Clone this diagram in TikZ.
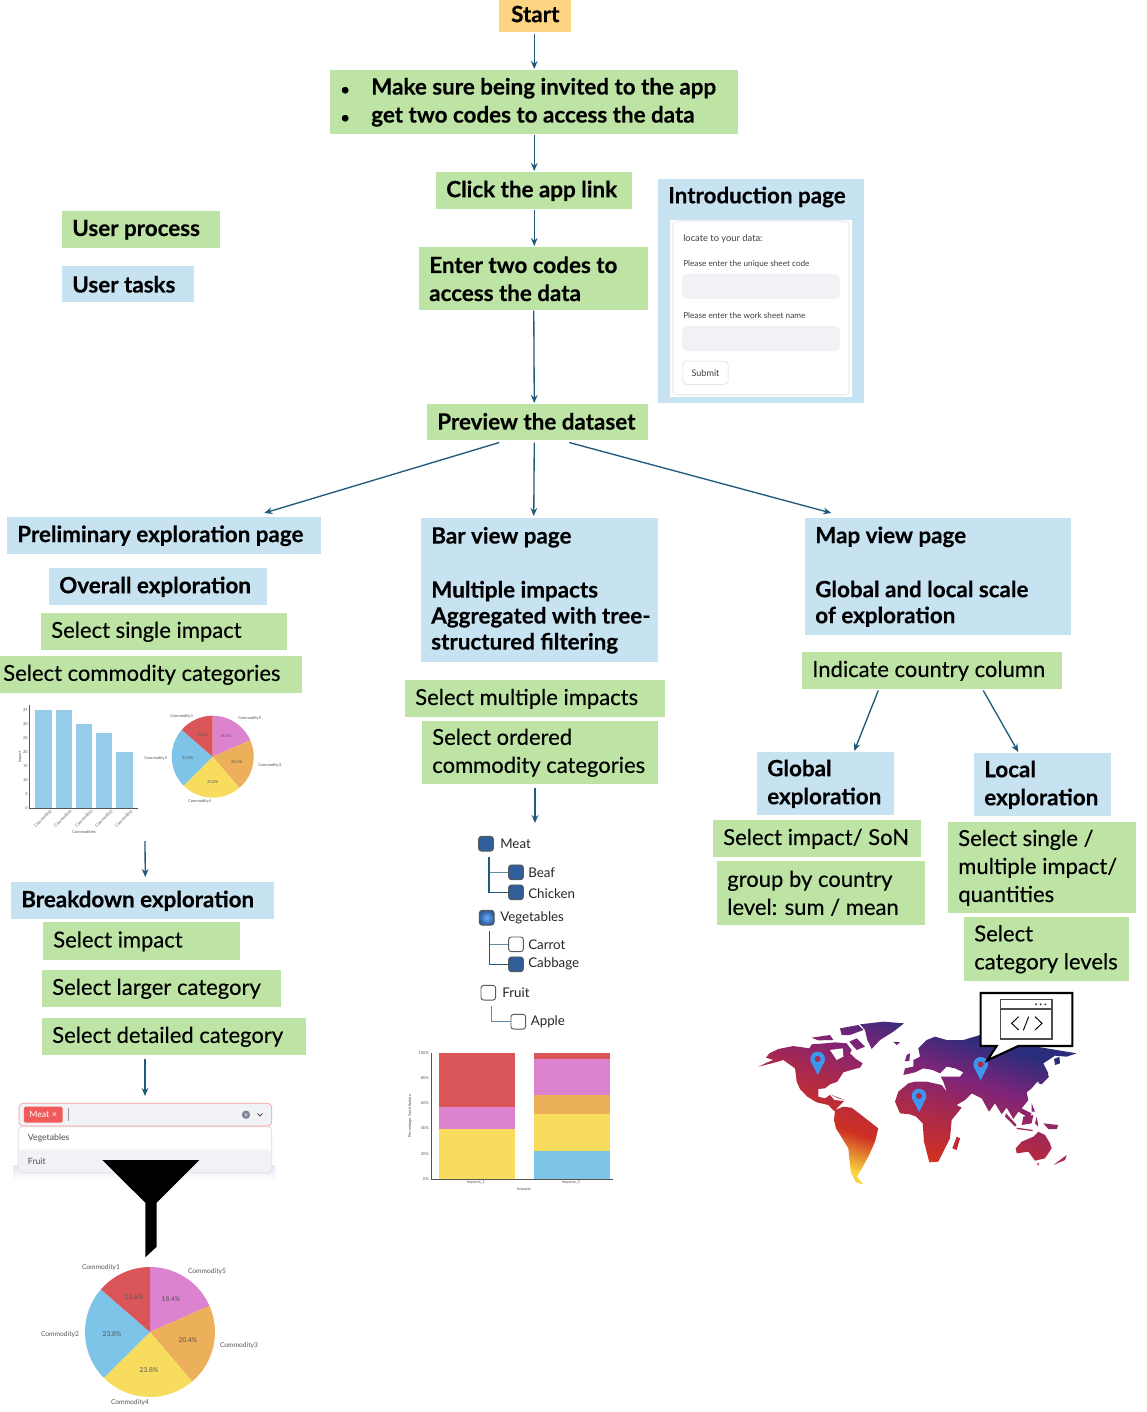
\documentclass[tikz,border=0pt]{standalone}
\usepackage{fontspec}
\setmainfont{Lato}
\newfontfamily\medfont[FakeBold=0.2]{Lato}
\newfontfamily\heavyfont[BoldFeatures={FakeBold=0.35}]{Lato}
\usetikzlibrary{calc,arrows.meta}

\definecolor{flowgreen}{HTML}{BDE3A5}
\definecolor{flowblue}{HTML}{C7E3F2}
\definecolor{flowyellow}{HTML}{FDD582}
\definecolor{flowarrow}{HTML}{1F5A7D}
\definecolor{piered}{HTML}{D95558}
\definecolor{piepink}{HTML}{DC82CF}
\definecolor{pieorange}{HTML}{EDB05A}
\definecolor{pieyellow}{HTML}{F7DC5E}
\definecolor{pieblue}{HTML}{7DC4E8}
\definecolor{barblue}{HTML}{97CBEA}
\definecolor{chartgray}{HTML}{555555}
\definecolor{inputgray}{HTML}{F0F2F6}
\definecolor{tagred}{HTML}{F05A5A}
\definecolor{pinblue}{HTML}{3B97F0}
\definecolor{checkblue}{HTML}{2F5E9A}
\definecolor{iconslate}{HTML}{80859A}
\definecolor{mapyellow}{HTML}{F7D33C}
\definecolor{mapred}{HTML}{CF3022}
\definecolor{mapcrimson}{HTML}{AE2A48}
\definecolor{mappurple}{HTML}{7F2478}
\definecolor{mapnavy}{HTML}{2A2D7C}

\pgfdeclareverticalshading{mapshade}{100bp}{
  color(0bp)=(mapyellow);
  color(29bp)=(mapyellow);
  color(38bp)=(mapred);
  color(48bp)=(mapcrimson);
  color(59bp)=(mappurple);
  color(70bp)=(mapnavy);
  color(100bp)=(mapnavy)}

\tikzset{
  boxsize/.style 2 args={anchor=north west,inner xsep=7.5pt,inner ysep=0pt,
    text width=(#1-20)*0.75pt,minimum height=#2*0.75pt,align=flush left},
  greenbold/.style={fill=flowgreen,text=black,font=\fontsize{16.8}{21}\heavyfont\bfseries},
  greenmed/.style={fill=flowgreen,text=black,font=\fontsize{16.5}{21}\medfont},
  bluebold/.style={fill=flowblue,text=black,font=\fontsize{16.8}{21}\heavyfont\bfseries},
  bluepage/.style={fill=flowblue,text=black,font=\fontsize{16.8}{19.5}\heavyfont\bfseries},
  flow/.style={draw=flowarrow,line width=1pt,-{Stealth[length=6pt,width=5pt]}},
  charttext/.style={inner sep=0pt,text=chartgray,font=\fontsize{3}{4}\selectfont},
  pietext/.style={inner sep=0pt,text=chartgray,font=\fontsize{5}{6}\selectfont},
  formtext/.style={inner sep=0pt,anchor=west,text=black!75,font=\fontsize{6.15}{8}\selectfont},
  menutext/.style={inner sep=0pt,anchor=west,text=black!70,font=\fontsize{6.5}{8}\selectfont},
  checkfull/.style={draw=black!65,line width=.7pt,rounded corners=2pt,minimum size=11pt,inner sep=0pt,fill=checkblue},
  checkempty/.style={draw=black!65,line width=.7pt,rounded corners=2pt,minimum size=11pt,inner sep=0pt,fill=white},
  treetext/.style={inner sep=0pt,anchor=west,text=black!85,font=\fontsize{10}{11}\selectfont},
  treeline/.style={draw=flowarrow!70,line width=.8pt,shorten <=2pt},
  mappin/.pic={
    \fill[pinblue] (-20,8) -- (0,48) -- (20,8) -- cycle;
    \fill[pinblue] (0,0) circle (22);
    \fill[mapcrimson] (0,0) circle (9);
  }
}

\begin{document}
\begin{tikzpicture}[x=0.75pt,y=0.75pt]
\useasboundingbox (0,0) rectangle (1146,-1412);

% flow at the top
\node[boxsize={72}{32},align=center,greenbold,fill=flowyellow] (start) at (499,0) {\raisebox{3.5pt}{Start}};
\node[boxsize={408}{64},greenbold] (invite) at (330,-70) {\makebox[23.25pt][l]{\fontsize{11}{11}\selectfont\hspace{.5pt}•}Make sure being invited to the app\\\makebox[23.25pt][l]{\fontsize{11}{11}\selectfont\hspace{.5pt}•}get two codes to access the data};
\node[boxsize={196}{37},greenbold] (click) at (436,-172) {Click the app link};
\node[boxsize={229}{63},greenbold] (enter) at (419,-247) {Enter two codes to\\access the data};
\node[boxsize={221}{36},greenbold] (preview) at (427,-404) {\raisebox{1.5pt}{Preview the dataset}};
\node[boxsize={158}{37},greenbold] (process) at (62,-211) {User process};
\node[boxsize={132}{36},bluebold] (tasks) at (62,-266) {User tasks};

% introduction page
\fill[flowblue] (658,-179) rectangle (864,-403);
\node[inner sep=0pt,anchor=west,font=\fontsize{16.8}{21}\heavyfont\bfseries] (intro) at (668,-197) {Introduction page};
\fill[white] (670,-220) rectangle (852,-397);
\draw[black!15,rounded corners=3pt] (673,-221) rectangle (849,-395);
\node[formtext,font=\fontsize{7}{8}\selectfont] (locate) at (683,-238.5) {locate to your data:};
\node[formtext] (sheetcode) at (683,-264) {Please enter the unique sheet code};
\fill[inputgray,rounded corners=4pt] (682,-274) rectangle (840,-299);
\node[formtext] (sheetname) at (683,-316) {Please enter the work sheet name};
\fill[inputgray,rounded corners=4pt] (682,-326) rectangle (840,-351);
\node[draw=black!15,rounded corners=3pt,inner sep=0pt,minimum width=34pt,minimum height=17.5pt,text=black!75,font=\fontsize{6.8}{8}\selectfont] (submit) at (705.5,-372.7) {Submit};

% three pages
\node[boxsize={314}{37},bluebold] (prelim) at (7,-517) {Preliminary exploration page};
\node[boxsize={237}{144},bluepage] (barpage) at (421,-518) {Bar view page\\[21pt]Multiple impacts\\\makebox[0pt][l]{Aggregated with tree-}\\structured filtering};
\node[boxsize={266}{117},bluepage] (mappage) at (805,-518) {Map view page\\[21pt]Global and local scale\\of exploration};

% left column
\node[boxsize={218}{37},bluebold] (overall) at (49,-568) {Overall exploration};
\node[boxsize={246}{37},greenmed] (single) at (41,-613) {Select single impact};
\node[boxsize={301}{37},greenmed,inner xsep=2.25pt,text width=296*0.75pt] (commodity) at (0,-656) {Select commodity categories};
\node[boxsize={263}{37},bluebold] (breakdown) at (11,-882) {Breakdown exploration};
\node[boxsize={197}{38},greenmed] (impact) at (43,-922) {Select impact};
\node[boxsize={239}{37},greenmed] (larger) at (42,-970) {Select larger category};
\node[boxsize={264}{37},greenmed] (detailed) at (42,-1018) {Select detailed category};
\coordinate (chartend) at (145,-841);
\coordinate (detailedend) at (145,-1059);
\coordinate (dropdown) at (145,-1096);

% middle column
\node[boxsize={260}{37},greenmed] (multiple) at (405,-680) {Select multiple impacts};
\node[boxsize={236}{63},greenmed] (ordered) at (422,-721) {Select ordered\\commodity categories};
\coordinate (orderedend) at (535,-788);
\coordinate (treetop) at (535,-823);

% right column
\node[boxsize={260}{37},greenmed] (country) at (802,-652) {Indicate country column};
\node[boxsize={137}{63},bluebold] (global) at (757,-752) {Global\\exploration};
\node[boxsize={137}{63},bluebold] (local) at (974,-753) {Local\\exploration};
\node[boxsize={208}{37},greenmed] (son) at (713,-820) {Select impact/ SoN};
\node[boxsize={208}{64},greenmed] (group) at (717,-861) {group by country\\level: sum / mean};
\node[boxsize={188}{91},greenmed] (quantities) at (948,-822) {Select single /\\multiple impact/\\quantities};
\node[boxsize={165}{64},greenmed] (levels) at (964,-917) {Select\\category levels};

% arrows
\draw[flow] ($(start.south)+(-1,-1)$) -- ($(invite.north)+(0,1)$);
\draw[flow] (invite.south) -- ($(click.north)+(0,1)$);
\draw[flow] (click.south) -- ($(enter.north)+(0.5,1)$);
\draw[flow] (enter.south) -- ($(preview.north)+(-3.5,1)$);
\draw[flow] ($(preview.south)+(-38.5,-2)$) -- ($(prelim.north)+(100,4)$);
\draw[flow] ($(preview.south)+(-3.5,-2)$) -- ($(barpage.north)+(-6,2)$);
\draw[flow] ($(preview.south)+(31.5,-2)$) -- ($(mappage.north)+(-107,5)$);
\draw[flow] ($(country.south)+(-54,-1)$) -- ($(global.north)+(28.5,1)$);
\draw[flow] ($(country.south)+(51,-1)$) -- ($(local.north)+(-24.5,1)$);
\draw[flow] (chartend) -- ($(breakdown.north)+(2.5,5)$);
\draw[flow] (detailedend) -- (dropdown);
\draw[flow] (orderedend) -- (treetop);

% small bar chart
\fill[barblue] (35,-807.7) rectangle (51.7,-710);
\fill[barblue] (55.7,-807.7) rectangle (72,-710);
\fill[barblue] (76,-807.7) rectangle (92,-724);
\fill[barblue] (96.3,-807.7) rectangle (112.3,-732.7);
\fill[barblue] (116.3,-807.7) rectangle (132.7,-752);
\draw[chartgray,line width=.3pt] (29.3,-705) -- (29.3,-807.7) -- (137.7,-807.7);
\node[charttext,anchor=east] (ya) at (28,-807.7) {0};
\node[charttext,anchor=east] (yb) at (28,-793.7) {5};
\node[charttext,anchor=east] (yc) at (28,-779.8) {10};
\node[charttext,anchor=east] (yd) at (28,-765.8) {15};
\node[charttext,anchor=east] (ye) at (28,-751.9) {20};
\node[charttext,anchor=east] (yf) at (28,-737.9) {25};
\node[charttext,anchor=east] (yg) at (28,-724) {30};
\node[charttext,anchor=east] (yh) at (28,-710) {35};
\node[charttext,rotate=90] (yname) at (20,-757) {Impact};
\node[charttext,rotate=45,anchor=north east] (xa) at (50,-809) {Commodity2};
\node[charttext,rotate=45,anchor=north east] (xb) at (70,-809) {Commodity4};
\node[charttext,rotate=45,anchor=north east] (xc) at (91,-809) {Commodity3};
\node[charttext,rotate=45,anchor=north east] (xd) at (111,-809) {Commodity5};
\node[charttext,rotate=45,anchor=north east] (xe) at (131,-809) {Commodity1};
\node[charttext] (xname) at (84,-832.5) {Commodities};

% small pie
\begin{scope}[shift={(212.7,-756.7)}]
\fill[piepink] (0,0) -- (90:41) arc[start angle=90,end angle=23.8,radius=41] -- cycle;
\fill[pieorange] (0,0) -- (23.8:41) arc[start angle=23.8,end angle=-49.6,radius=41] -- cycle;
\fill[pieyellow] (0,0) -- (-49.6:41) arc[start angle=-49.6,end angle=-135.3,radius=41] -- cycle;
\fill[pieblue] (0,0) -- (-135.3:41) arc[start angle=-135.3,end angle=-221,radius=41] -- cycle;
\fill[piered] (0,0) -- (139:41) arc[start angle=139,end angle=90,radius=41] -- cycle;
\node[charttext] (sa) at (-31,40) {Commodity1};
\node[charttext] (sb) at (37,38.5) {Commodity5};
\node[charttext] (sc) at (-57,-1.5) {Commodity2};
\node[charttext] (sd) at (57,-9) {Commodity3};
\node[charttext] (se) at (-13,-45) {Commodity4};
\node[charttext] (sf) at (-10,22) {13.6\%};
\node[charttext] (sg) at (13,21) {18.4\%};
\node[charttext] (sh) at (24,-5) {20.4\%};
\node[charttext] (si) at (0,-25) {23.8\%};
\node[charttext] (sj) at (-25,-1) {23.8\%};
\end{scope}

% dropdown
\shade[top color=black!35!blue!10!white,bottom color=white] (13,-1165) rectangle (275,-1180);
\draw[black!15,fill=white,rounded corners=3pt,line width=.6pt] (18.3,-1126.7) rectangle (271.7,-1172.7);
\fill[inputgray,rounded corners=3pt] (18.6,-1149.3) rectangle (271.4,-1172.4);
\draw[tagred!60,fill=inputgray,rounded corners=3pt,line width=.5pt] (19,-1103.3) rectangle (271.7,-1126);
\node[fill=tagred,rounded corners=1.5pt,inner sep=0pt,minimum width=29pt,minimum height=12pt,text=white,font=\fontsize{6.5}{8}\selectfont] (meattag) at (43.3,-1114.7) {Meat\,\,×};
\draw[black!40,line width=.6pt] (68.3,-1108) -- (68.3,-1121);
\fill[iconslate] (246,-1114.7) circle (4.2);
\fill[iconslate!50!white] (246,-1114.7) circle (1.6);
\draw[black!70,line width=.7pt] (257.5,-1113.5) -- (260,-1116) -- (262.5,-1113.5);
\node[menutext] (vegitem) at (27.7,-1138) {Vegetables};
\node[menutext] (fruititem) at (27.7,-1161) {Fruit};

% funnel
\fill[black] (102.3,-1160) -- (199.3,-1160) -- (156.7,-1202.7) -- (156.7,-1246.7) -- (145.3,-1257.3) -- (145.3,-1202.7) -- cycle;

% big pie
\begin{scope}[shift={(150,-1332)}]
\fill[piepink] (0,0) -- (90:65) arc[start angle=90,end angle=23.8,radius=65] -- cycle;
\fill[pieorange] (0,0) -- (23.8:65) arc[start angle=23.8,end angle=-49.6,radius=65] -- cycle;
\fill[pieyellow] (0,0) -- (-49.6:65) arc[start angle=-49.6,end angle=-135.3,radius=65] -- cycle;
\fill[pieblue] (0,0) -- (-135.3:65) arc[start angle=-135.3,end angle=-221,radius=65] -- cycle;
\fill[piered] (0,0) -- (139:65) arc[start angle=139,end angle=90,radius=65] -- cycle;
\node[pietext] (la) at (-49,64.5) {Commodity1};
\node[pietext] (lb) at (57,60.5) {Commodity5};
\node[pietext] (lc) at (-90,-3) {Commodity2};
\node[pietext] (ld) at (89,-14) {Commodity3};
\node[pietext] (le) at (-20,-70.5) {Commodity4};
\node[pietext] (lf) at (-16,35) {13.6\%};
\node[pietext] (lg) at (21,33) {18.4\%};
\node[pietext] (lh) at (38,-8) {20.4\%};
\node[pietext] (li) at (-1,-38.5) {23.8\%};
\node[pietext] (lj) at (-38,-2) {23.8\%};
\end{scope}

% tree of categories
\node[checkfull] (meat) at (486,-843.7) {};
\node[checkfull] (beaf) at (516,-872.3) {};
\node[checkfull] (chicken) at (516,-892.3) {};
\node[checkfull,shading=radial,inner color=cyan!45!blue!60!white,outer color=checkblue] (vegetables) at (486.7,-917.7) {};
\node[checkempty] (carrot) at (516,-944.3) {};
\node[checkfull] (cabbage) at (516,-964.3) {};
\node[checkempty] (fruit) at (488.3,-992.7) {};
\node[checkempty] (apple) at (518.3,-1021.7) {};
\node[treetext] (meattext) at (500,-843.7) {Meat};
\node[treetext] (beaftext) at (528,-873) {Beaf};
\node[treetext] (chickentext) at (528,-893.5) {Chicken};
\node[treetext] (vegetablestext) at (500,-917.7) {Vegetables};
\node[treetext] (carrottext) at (528,-945) {Carrot};
\node[treetext] (cabbagetext) at (528,-963.5) {Cabbage};
\node[treetext] (fruittext) at (502,-992.7) {Fruit};
\node[treetext] (appletext) at (530.5,-1021.7) {Apple};
\draw[treeline] ($(meat.south)+(3,-3)$) |- (beaf.west);
\draw[treeline,draw=flowarrow] ($(meat.south)+(3,-3)$) |- (chicken.west);
\draw[treeline] ($(vegetables.south)+(3,-3)$) |- (carrot.west);
\draw[treeline,draw=flowarrow] ($(vegetables.south)+(3,-3)$) |- (cabbage.west);
\draw[treeline] ($(fruit.south)+(3,-3)$) |- (apple.west);

% stacked bars
\fill[pieyellow] (438.7,-1178.7) rectangle (515,-1128.5);
\fill[piepink] (438.7,-1128.5) rectangle (515,-1107.4);
\fill[piered] (438.7,-1107.4) rectangle (515,-1053.3);
\fill[pieblue] (533.7,-1178.7) rectangle (610,-1150.5);
\fill[pieyellow] (533.7,-1150.5) rectangle (610,-1113.5);
\fill[pieorange] (533.7,-1113.5) rectangle (610,-1094.5);
\fill[piepink] (533.7,-1094.5) rectangle (610,-1058.5);
\fill[piered] (533.7,-1058.5) rectangle (610,-1053.3);
\draw[chartgray,line width=.3pt] (430.7,-1053.3) -- (430.7,-1178.7) -- (613,-1178.7);
\node[charttext,anchor=east] (ta) at (429,-1178.7) {0\%};
\node[charttext,anchor=east] (tb) at (429,-1153.6) {20\%};
\node[charttext,anchor=east] (tc) at (429,-1128.5) {40\%};
\node[charttext,anchor=east] (td) at (429,-1103.4) {60\%};
\node[charttext,anchor=east] (te) at (429,-1078.4) {80\%};
\node[charttext,anchor=east] (tf) at (429,-1053.3) {100\%};
\node[charttext,rotate=90] (tname) at (410,-1116) {Percentage Contribution};
\node[charttext] (ia) at (476,-1182.5) {Impacts\_1};
\node[charttext] (ib) at (571,-1182.5) {Impacts\_2};
\node[charttext] (iname) at (524,-1189) {Impacts};

% world map
\begin{scope}[shift={(750,-985)},xscale=1/3,yscale=-1/3]
\shade[shading=mapshade,shading angle=-18]
  (25,245) -- (52,232) -- (70,225) -- (48,218) -- (58,205) -- (85,192) -- (130,183) -- (178,190) -- (185,178) -- (225,175) -- (255,172) -- (290,175) -- (305,195) -- (300,205) -- (318,222) -- (338,235) -- (330,248) -- (300,256) -- (280,262) -- (262,290) -- (240,298) -- (225,310) -- (205,312) -- (205,335) -- (225,340) -- (240,330) -- (253,345) -- (282,348) -- (252,378) -- (235,360) -- (200,352) -- (172,335) -- (150,312) -- (140,290) -- (135,250) -- (100,225) -- (65,235) -- cycle
  (185,158) -- (240,150) -- (250,165) -- (205,166) -- cycle
  (270,130) -- (325,120) -- (340,135) -- (300,150) -- (275,150) -- cycle
  (298,170) -- (320,160) -- (345,185) -- (320,195) -- cycle
  (330,118) -- (400,110) -- (462,115) -- (430,140) -- (390,165) -- (365,192) -- (352,165) -- (345,135) -- cycle
  (240,328) -- (285,345) -- (265,340) -- cycle
  (255,375) -- (280,365) -- (305,368) -- (340,395) -- (385,430) -- (375,470) -- (355,515) -- (330,560) -- (320,575) -- (340,598) -- (318,592) -- (302,560) -- (295,490) -- (258,430) -- (252,405) -- cycle
  (435,350) -- (445,320) -- (475,295) -- (495,290) -- (530,290) -- (575,300) -- (590,320) -- (610,355) -- (635,368) -- (605,405) -- (600,460) -- (580,500) -- (565,530) -- (538,532) -- (522,470) -- (518,415) -- (498,395) -- (480,388) -- (450,385) -- cycle
  (620,455) -- (630,460) -- (620,495) -- (607,490) -- cycle
  (460,270) -- (465,250) -- (490,245) -- (490,225) -- (510,215) -- (505,190) -- (530,165) -- (555,155) -- (590,165) -- (640,165) -- (690,150) -- (730,165) -- (790,170) -- (860,185) -- (980,205) -- (950,215) -- (915,212) -- (880,235) -- (895,265) -- (880,290) -- (860,292) -- (845,310) -- (830,322) -- (835,345) -- (815,370) -- (845,385) -- (835,398) -- (805,380) -- (790,402) -- (770,368) -- (755,388) -- (735,355) -- (717,380) -- (695,340) -- (665,325) -- (645,345) -- (612,365) -- (595,335) -- (580,290) -- (572,275) -- (630,275) -- (640,262) -- (615,250) -- (590,245) -- (570,265) -- (548,255) -- (520,250) -- (495,262) -- cycle
  (470,210) -- (480,205) -- (478,228) -- (465,228) -- cycle
  (430,170) -- (450,172) -- (440,180) -- cycle
  (768,385) -- (800,420) -- (795,425) -- (765,395) -- cycle
  (800,428) -- (850,435) -- (845,438) -- (800,432) -- cycle
  (820,395) -- (850,390) -- (845,415) -- (815,420) -- cycle
  (860,395) -- (865,425) -- (855,415) -- cycle
  (880,415) -- (925,420) -- (920,432) -- (895,432) -- cycle
  (845,355) -- (855,380) -- (845,380) -- cycle
  (912,222) -- (928,215) -- (930,235) -- (915,240) -- cycle
  (865,295) -- (890,275) -- (890,262) -- (897,275) -- (875,298) -- cycle
  (797,490) -- (815,470) -- (850,455) -- (865,440) -- (885,450) -- (900,475) -- (905,490) -- (885,520) -- (855,527) -- (835,500) -- (800,505) -- cycle
  (860,535) -- (868,535) -- (865,542) -- cycle
  (910,540) -- (950,510) -- (945,525) -- cycle;
\fill[white] (240,195) -- (278,190) -- (280,215) -- (260,225) -- cycle;
\pic[transform shape] at (203,222) {mappin};
\pic[transform shape] at (507,333) {mappin};
\pic[transform shape] at (692,238) {mappin};
% bubble with the code window
\draw[black,line width=1.6pt,fill=white] (692,24) -- (967,24) -- (967,183) -- (805,183) -- (712,226) -- (740,183) -- (692,183) -- cycle;
\draw[black!70,line width=1pt] (752,44) rectangle (906,162);
\draw[black!70,line width=.8pt] (752,72) -- (906,72);
\fill[black!70] (858,58) circle (3.5);
\fill[black!70] (872,58) circle (3.5);
\fill[black!70] (886,58) circle (3.5);
\draw[black,line width=.7pt] (806,95) -- (785,115) -- (806,135);
\draw[black,line width=.7pt] (836,95) -- (820,136);
\draw[black,line width=.7pt] (855,95) -- (876,115) -- (855,135);
\end{scope}

\end{tikzpicture}
\end{document}
